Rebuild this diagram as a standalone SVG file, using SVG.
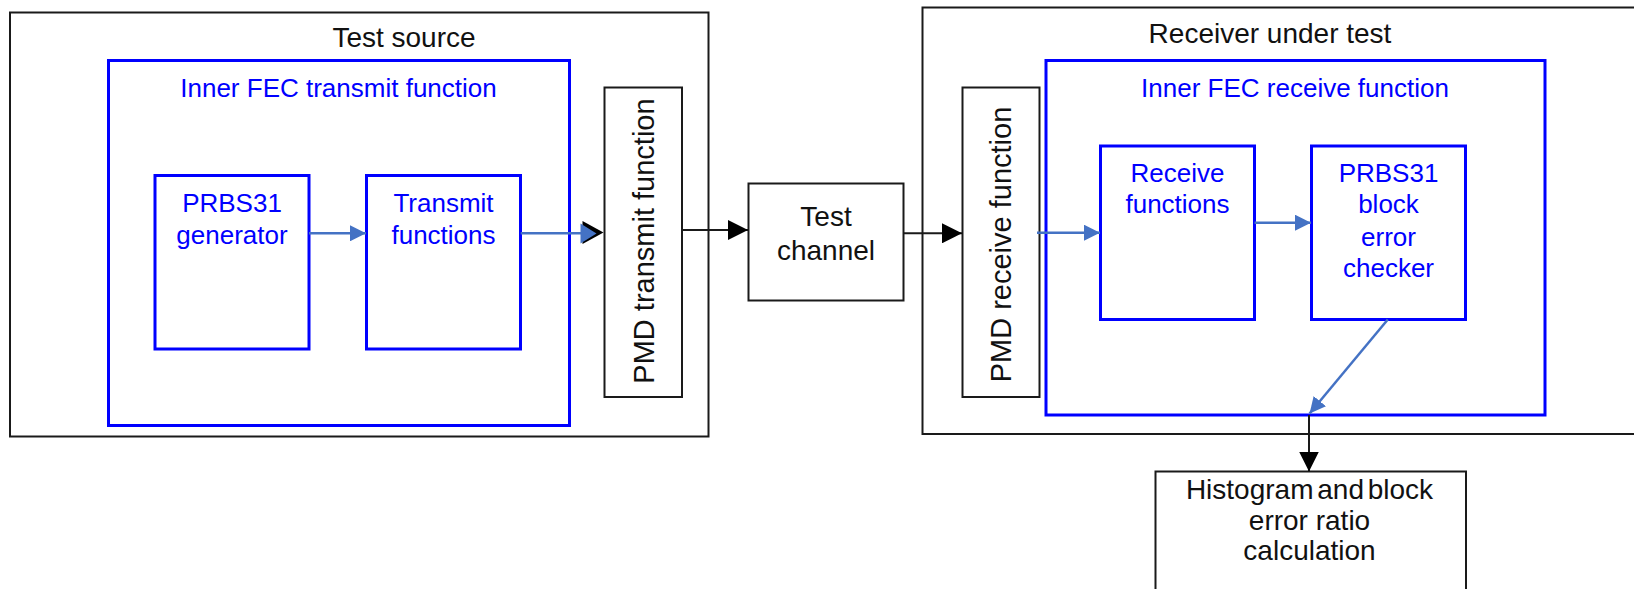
<svg xmlns="http://www.w3.org/2000/svg" width="1634" height="589" viewBox="0 0 1634 589">
<style>
.bk{fill:none;stroke:#1a1a1a;stroke-width:2}
.bl{fill:none;stroke:#0000ff;stroke-width:3}
.tb{font-family:"Liberation Sans",Arial,sans-serif;font-size:28px;fill:#111;text-anchor:middle}
.tu{font-family:"Liberation Sans",Arial,sans-serif;font-size:26px;fill:#0000ff;text-anchor:middle}
.tv{font-family:"Liberation Sans",Arial,sans-serif;font-size:29px;fill:#111;text-anchor:middle}
.cb{fill:none;stroke:#1a1a1a;stroke-width:2}
.cu{fill:none;stroke:#4472c4;stroke-width:2.5}
</style>
<defs>
<marker id="abig" viewBox="0 0 10 10" refX="10" refY="5" markerWidth="20" markerHeight="20" markerUnits="userSpaceOnUse" orient="auto">
<path d="M0,0 L10,5 L0,10 z" fill="#000"/>
</marker>
<marker id="au" viewBox="0 0 10 10" refX="10" refY="5" markerWidth="16" markerHeight="16" markerUnits="userSpaceOnUse" orient="auto">
<path d="M0,0 L10,5 L0,10 z" fill="#4472c4"/>
</marker>
</defs>
<rect width="1634" height="589" fill="#fff"/>

<g id="test-source">
<rect class="bk" x="10" y="12.5" width="698.5" height="424"/>
<text class="tb" x="404" y="46.5">Test source</text>
</g>
<g id="inner-fec-tx">
<rect class="bl" x="108.5" y="60.5" width="461" height="365"/>
<text class="tu" x="338.5" y="96.5">Inner FEC transmit function</text>
</g>
<g id="prbs31-gen">
<rect class="bl" x="155" y="175.5" width="154" height="173.5"/>
<text class="tu" x="232" y="211.5">PRBS31</text>
<text class="tu" x="232" y="243.5">generator</text>
</g>
<g id="tx-functions">
<rect class="bl" x="366.5" y="175.5" width="154" height="173.5"/>
<text class="tu" x="443.5" y="211.5">Transmit</text>
<text class="tu" x="443.5" y="243.5">functions</text>
</g>
<g id="pmd-tx">
<rect class="bk" x="604.5" y="87.5" width="77.5" height="309.5"/>
<text class="tv" transform="translate(653.5,241) rotate(-90)">PMD transmit function</text>
</g>
<g id="test-channel">
<rect class="bk" x="748.5" y="183.5" width="155" height="117"/>
<text class="tb" x="826" y="226">Test</text>
<text class="tb" x="826" y="260">channel</text>
</g>
<g id="receiver">
<rect class="bk" x="922.5" y="7.5" width="720" height="426.5"/>
<text class="tb" x="1270" y="43">Receiver under test</text>
</g>
<g id="pmd-rx">
<rect class="bk" x="962.5" y="87.5" width="77" height="309.5"/>
<text class="tv" transform="translate(1011,244.5) rotate(-90)">PMD receive function</text>
</g>
<g id="inner-fec-rx">
<rect class="bl" x="1046" y="60.5" width="499" height="354.5"/>
<text class="tu" x="1295" y="96.5">Inner FEC receive function</text>
</g>
<g id="rx-functions">
<rect class="bl" x="1100.5" y="146" width="154" height="173.5"/>
<text class="tu" x="1177.5" y="181.5">Receive</text>
<text class="tu" x="1177.5" y="213">functions</text>
</g>
<g id="prbs31-checker">
<rect class="bl" x="1311.5" y="146" width="154" height="173.5"/>
<text class="tu" x="1388.5" y="181.5">PRBS31</text>
<text class="tu" x="1388.5" y="213">block</text>
<text class="tu" x="1388.5" y="245.5">error</text>
<text class="tu" x="1388.5" y="277">checker</text>
</g>
<g id="histogram">
<rect class="bk" x="1155.5" y="471.5" width="310.5" height="130"/>
<text class="tb" x="1309.5" y="499" word-spacing="-4">Histogram and block</text>
<text class="tb" x="1309.5" y="530">error ratio</text>
<text class="tb" x="1309.5" y="560">calculation</text>
</g>

<g id="connectors">
<line class="cu" x1="309" y1="233.3" x2="366" y2="233.3" marker-end="url(#au)"/>
<path d="M582.5,221 L603.5,232.5 L582.5,244 z" fill="#000"/>
<line class="cu" x1="520.7" y1="233.3" x2="582" y2="233.3"/>
<path d="M580.5,223.5 L596.5,233.5 L580.5,243.5 z" fill="#4472c4"/>
<line class="cb" x1="682" y1="230" x2="748" y2="230" marker-end="url(#abig)"/>
<line class="cb" x1="903.5" y1="233.3" x2="962" y2="233.3" marker-end="url(#abig)"/>
<line class="cu" x1="1037" y1="232.7" x2="1100" y2="232.7" marker-end="url(#au)"/>
<line class="cu" x1="1254.5" y1="222.7" x2="1311" y2="222.7" marker-end="url(#au)"/>
<line class="cu" x1="1387.8" y1="319.5" x2="1309.6" y2="413.5" marker-end="url(#au)"/>
<line class="cb" x1="1309" y1="415" x2="1309" y2="471.5" marker-end="url(#abig)"/>
</g>
</svg>
